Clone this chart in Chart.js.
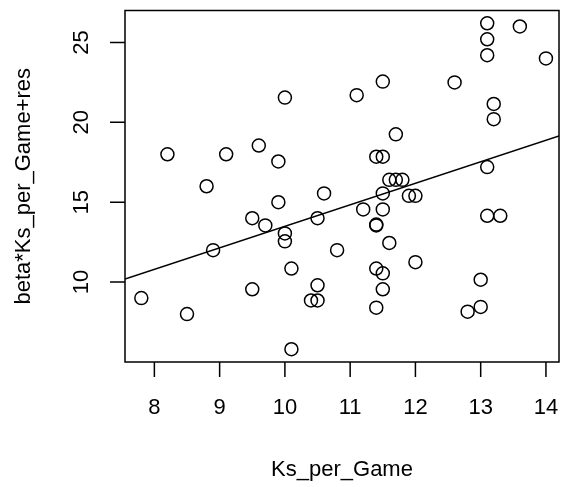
<!DOCTYPE html>
<html>
<head>
<meta charset="utf-8">
<script src="https://cdn.jsdelivr.net/npm/chart.js@4"></script>
<style>
  body { margin: 0; background: #fff; }
  canvas { display: block; }
</style>
</head>
<body>
<canvas id="plot" width="567" height="487"></canvas>
<script>
// data
const ksPerGame = [7.8, 8.2, 8.5, 8.8, 8.9, 9.1, 9.5, 9.5, 9.6, 9.7, 9.9, 9.9, 10.0, 10.0, 10.0,
  10.1, 10.1, 10.4, 10.5, 10.5, 10.5, 10.6, 10.8, 11.1, 11.2, 11.4, 11.4, 11.4, 11.4, 11.4,
  11.5, 11.5, 11.5, 11.5, 11.5, 11.5, 11.6, 11.6, 11.7, 11.7, 11.8, 11.9, 12.0, 12.0, 12.6,
  12.8, 13.0, 13.0, 13.1, 13.1, 13.1, 13.1, 13.1, 13.2, 13.2, 13.3, 13.6, 14.0];
const fitted = [9.0, 18.0, 8.0, 16.0, 12.0, 18.0, 14.0, 9.55, 18.55, 13.55, 17.55, 15.0, 21.55, 13.05, 12.55,
  10.85, 5.8, 8.85, 8.85, 9.8, 14.0, 15.55, 12.0, 21.7, 14.55, 17.85, 13.6, 13.55, 10.85, 8.4,
  22.55, 17.85, 15.55, 14.55, 10.55, 9.55, 16.4, 12.45, 19.25, 16.4, 16.4, 15.4, 15.4, 11.25, 22.5,
  8.15, 10.15, 8.45, 26.2, 25.2, 24.2, 17.2, 14.15, 21.15, 20.2, 14.15, 26.0, 24.0];
const xTicks = [8, 9, 10, 11, 12, 13, 14];
const yTicks = [10, 15, 20, 25];
const xRange = [7.55, 14.2];
const yRange = [5.0, 27.0];
const intercept = 0.036;
const slope = 1.346;

const points = ksPerGame.map((x, i) => ({ x: x, y: fitted[i] }));
const fitLine = xRange.map(x => ({ x: x, y: intercept + slope * x }));

const FONT = '22px "Liberation Sans", Arial, sans-serif';

// box, axes and labels drawn R-style on top of the library's scales
const rAxes = {
  id: 'rAxes',
  afterDraw(chart) {
    const ctx = chart.ctx;
    const a = chart.chartArea;
    const sx = chart.scales.x, sy = chart.scales.y;
    ctx.save();
    ctx.strokeStyle = '#000';
    ctx.fillStyle = '#000';
    ctx.lineWidth = 1.5;
    ctx.strokeRect(a.left, a.top, a.right - a.left, a.bottom - a.top);

    ctx.beginPath();
    xTicks.forEach(v => {
      const px = sx.getPixelForValue(v);
      ctx.moveTo(px, a.bottom);
      ctx.lineTo(px, a.bottom + 15);
    });
    yTicks.forEach(v => {
      const py = sy.getPixelForValue(v);
      ctx.moveTo(a.left, py);
      ctx.lineTo(a.left - 15, py);
    });
    ctx.stroke();

    ctx.font = FONT;
    ctx.textAlign = 'center';
    ctx.textBaseline = 'alphabetic';
    xTicks.forEach(v => {
      ctx.fillText(String(v), sx.getPixelForValue(v), 414);
    });
    ctx.fillText('Ks_per_Game', (a.left + a.right) / 2, 476);

    yTicks.forEach(v => {
      ctx.save();
      ctx.translate(88, sy.getPixelForValue(v));
      ctx.rotate(-Math.PI / 2);
      ctx.fillText(String(v), 0, 0);
      ctx.restore();
    });
    ctx.save();
    ctx.translate(30, (a.top + a.bottom) / 2);
    ctx.rotate(-Math.PI / 2);
    ctx.fillText('beta*Ks_per_Game+res', 0, 0);
    ctx.restore();
    ctx.restore();
  }
};

new Chart(document.getElementById('plot').getContext('2d'), {
  type: 'scatter',
  data: {
    datasets: [{
      data: points,
      pointStyle: 'circle',
      pointRadius: 6.5,
      pointBorderWidth: 1.5,
      borderColor: '#000',
      backgroundColor: 'rgba(0,0,0,0)',
      pointHoverRadius: 6.5
    }, {
      type: 'line',
      data: fitLine,
      borderColor: '#000',
      borderWidth: 1.5,
      pointRadius: 0,
      fill: false
    }]
  },
  options: {
    responsive: false,
    animation: false,
    layout: { padding: { left: 125, right: 5, top: 10.5, bottom: 125 } },
    plugins: { legend: { display: false }, tooltip: { enabled: false } },
    scales: {
      x: { type: 'linear', display: false, min: xRange[0], max: xRange[1] },
      y: { type: 'linear', display: false, min: yRange[0], max: yRange[1] }
    }
  },
  plugins: [rAxes]
});
</script>
</body>
</html>
